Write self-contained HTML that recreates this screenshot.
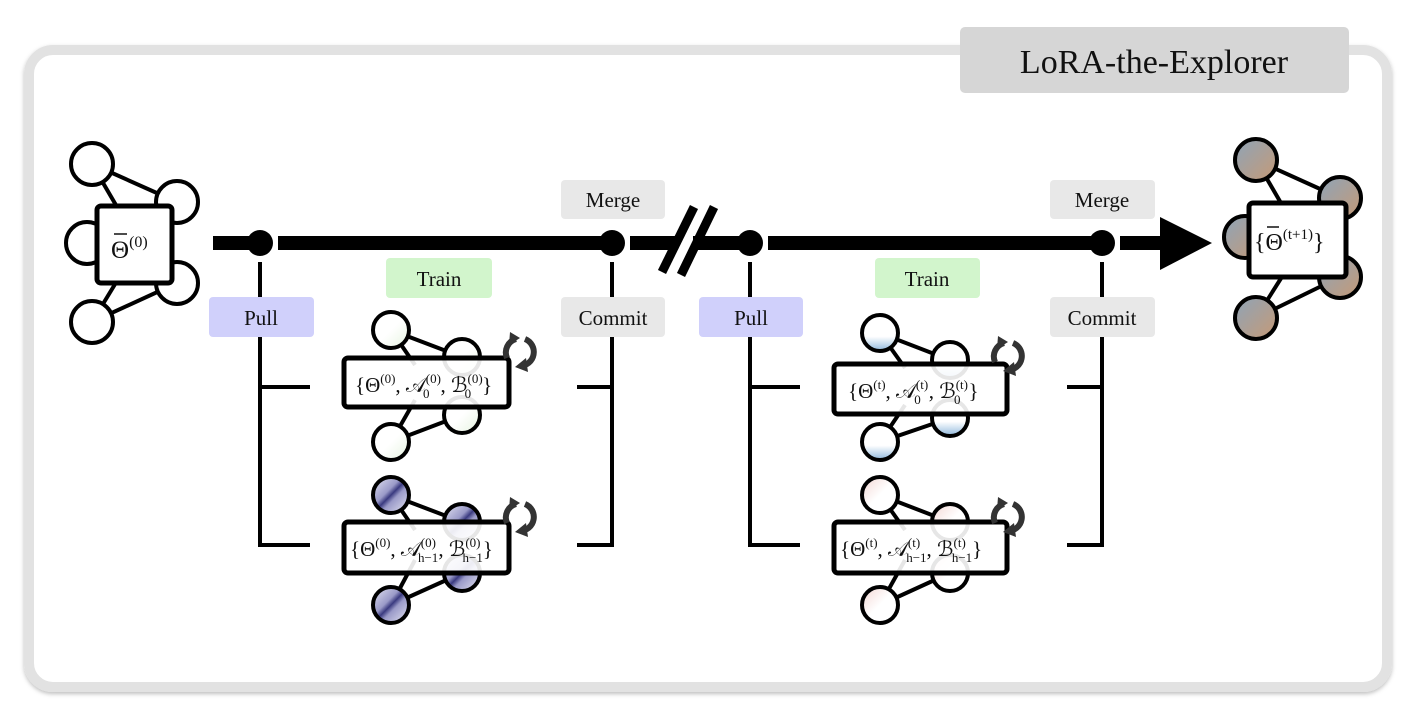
<!DOCTYPE html>
<html><head><meta charset="utf-8"><style>
html,body{margin:0;padding:0;background:#fff;}
svg{display:block;}
text{font-family:"Liberation Serif",serif;fill:#111;}
</style></head><body>
<svg width="1412" height="714" viewBox="0 0 1412 714" xmlns="http://www.w3.org/2000/svg">
<defs>
<linearGradient id="gOut" x1="0" y1="0" x2="1" y2="1"><stop offset="0" stop-color="#8ea4b8"/><stop offset="1" stop-color="#c69a76"/></linearGradient>
<linearGradient id="gPur" x1="0" y1="0" x2="1" y2="1"><stop offset="0" stop-color="#e8e8f4"/><stop offset="0.4" stop-color="#9a9ac8"/><stop offset="0.5" stop-color="#3a3a80"/><stop offset="0.6" stop-color="#9a9ac8"/><stop offset="1" stop-color="#e8e8f4"/></linearGradient>
<linearGradient id="gBlue" x1="0" y1="0" x2="0" y2="1"><stop offset="0.6" stop-color="#fff"/><stop offset="1" stop-color="#8fb8dc"/></linearGradient>
<linearGradient id="gPink" x1="0" y1="0" x2="1" y2="1"><stop offset="0" stop-color="#f3d6d3"/><stop offset="0.5" stop-color="#fff"/></linearGradient>
<linearGradient id="gGreen" x1="0" y1="0" x2="1" y2="1"><stop offset="0.5" stop-color="#fff"/><stop offset="1" stop-color="#e6f4e0"/></linearGradient>
<filter id="sh" x="-5%" y="-5%" width="110%" height="110%"><feDropShadow dx="0" dy="2" stdDeviation="2" flood-color="#000" flood-opacity="0.25"/></filter>
<g id="rot">
<g fill="none" stroke="#333" stroke-width="6">
<path d="M-13,6 A14,14 0 0 1 -4,-13"/>
<path d="M5,-13 A14,14 0 0 1 0,14"/>
</g>
<polygon points="-10,-20 0,-14 -11,-7" fill="#333"/>
<polygon points="6,6 8,20 -5,15" fill="#333"/>
</g>
</defs>

<rect x="29" y="50" width="1358" height="637" rx="24" fill="#fff" stroke="#e2e2e2" stroke-width="10" filter="url(#sh)"/>
<rect x="960" y="27" width="389" height="66" rx="5" fill="#d6d6d6"/>
<text x="1154" y="73" font-size="34" text-anchor="middle">LoRA-the-Explorer</text>

<g stroke="#000" stroke-width="4">
<line x1="92" y1="164" x2="177" y2="202"/><line x1="92" y1="164" x2="120" y2="212"/>
<line x1="92" y1="322" x2="177" y2="283"/><line x1="92" y1="322" x2="120" y2="276"/>
<circle cx="92" cy="164" r="21" fill="#fff"/><circle cx="177" cy="202" r="21" fill="#fff"/>
<circle cx="87" cy="243" r="21" fill="#fff"/><circle cx="177" cy="283" r="21" fill="#fff"/>
<circle cx="92" cy="322" r="21" fill="#fff"/>
<rect x="97" y="206" width="75" height="77" rx="4" fill="#fff" stroke-width="5"/>
</g>
<text x="111" y="258" font-size="25">Θ<tspan font-size="16" dy="-11">(0)</tspan></text>
<line x1="114" y1="234" x2="127" y2="234" stroke="#111" stroke-width="1.5"/>

<g stroke="#000" stroke-width="4">
<line x1="1256" y1="160" x2="1340" y2="198"/><line x1="1256" y1="160" x2="1285" y2="210"/>
<line x1="1256" y1="318" x2="1340" y2="277"/><line x1="1256" y1="318" x2="1285" y2="272"/>
<circle cx="1256" cy="160" r="21" fill="url(#gOut)"/><circle cx="1340" cy="198" r="21" fill="url(#gOut)"/>
<circle cx="1245" cy="237" r="21" fill="url(#gOut)"/><circle cx="1340" cy="277" r="21" fill="url(#gOut)"/>
<circle cx="1256" cy="318" r="21" fill="url(#gOut)"/>
<rect x="1249" y="203" width="97" height="74" rx="4" fill="#fff" stroke-width="5"/>
</g>
<text x="1254" y="250" font-size="24">{Θ<tspan font-size="15" dy="-11">(t+1)</tspan><tspan dy="11">}</tspan></text>
<line x1="1267" y1="227" x2="1279" y2="227" stroke="#111" stroke-width="1.5"/>

<g fill="#000">
<rect x="213" y="236" width="38" height="14"/>
<rect x="278" y="236" width="324" height="14"/>
<rect x="630" y="236" width="110" height="14"/>
<rect x="768" y="236" width="325" height="14"/>
<rect x="1120" y="236" width="45" height="14"/>
<polygon points="1160,217 1212,243 1160,270"/>
<circle cx="260" cy="243" r="13"/><circle cx="612" cy="243" r="13"/>
<circle cx="750" cy="243" r="13"/><circle cx="1102" cy="243" r="13"/>
</g>
<line x1="677" y1="242" x2="693" y2="242" stroke="#fff" stroke-width="16"/>
<line x1="662" y1="272" x2="694" y2="207" stroke="#000" stroke-width="9"/>
<line x1="681" y1="275" x2="714" y2="207" stroke="#000" stroke-width="9"/>

<g stroke="#000" stroke-width="4" fill="none">
<path d="M260,262 V545 H310 M260,387 H310"/>
<path d="M612,262 V545 H577 M612,387 H577"/>
<path d="M750,262 V545 H800 M750,387 H800"/>
<path d="M1102,262 V545 H1067 M1102,387 H1067"/>
</g>

<g font-size="21">
<rect x="561" y="180" width="104" height="39" rx="4" fill="#e8e8e8"/><text x="613" y="207" text-anchor="middle">Merge</text>
<rect x="1050" y="180" width="105" height="39" rx="4" fill="#e8e8e8"/><text x="1102" y="207" text-anchor="middle">Merge</text>
<rect x="209" y="297" width="105" height="40" rx="4" fill="#d0d0fb"/><text x="261" y="325" text-anchor="middle">Pull</text>
<rect x="699" y="297" width="104" height="40" rx="4" fill="#d0d0fb"/><text x="751" y="325" text-anchor="middle">Pull</text>
<rect x="561" y="297" width="104" height="40" rx="4" fill="#e8e8e8"/><text x="613" y="325" text-anchor="middle">Commit</text>
<rect x="1050" y="297" width="105" height="40" rx="4" fill="#e8e8e8"/><text x="1102" y="325" text-anchor="middle">Commit</text>
<rect x="386" y="258" width="106" height="40" rx="4" fill="#d2f5cc"/><text x="439" y="286" text-anchor="middle">Train</text>
<rect x="875" y="258" width="105" height="40" rx="4" fill="#d2f5cc"/><text x="927" y="286" text-anchor="middle">Train</text>
</g>

<g>
<g stroke="#000" stroke-width="4">
<line x1="391" y1="330" x2="462" y2="357"/><line x1="391" y1="330" x2="415" y2="365"/>
<line x1="391" y1="442" x2="462" y2="415"/><line x1="391" y1="442" x2="415" y2="400"/>
<circle cx="391" cy="330" r="18" fill="url(#gGreen)"/><circle cx="462" cy="357" r="18" fill="url(#gGreen)"/>
<circle cx="462" cy="415" r="18" fill="url(#gGreen)"/><circle cx="391" cy="442" r="18" fill="url(#gGreen)"/>
<rect x="344" y="358" width="165" height="49" rx="4" fill="#fff" fill-opacity="0.9" stroke-width="5"/>
</g>
<use href="#rot" x="520" y="352"/>
</g>
<text x="355" y="392" font-size="21">{Θ<tspan font-size="13" dy="-9">(0)</tspan><tspan dy="9">, 𝒜</tspan><tspan font-size="13" dy="-9">(0)</tspan><tspan font-size="13" dx="-18" dy="15">0</tspan><tspan dx="11" dy="-6">, ℬ</tspan><tspan font-size="13" dy="-9">(0)</tspan><tspan font-size="13" dx="-18" dy="15">0</tspan><tspan dx="11" dy="-6">}</tspan></text>

<g>
<g stroke="#000" stroke-width="4">
<line x1="391" y1="495" x2="462" y2="522"/><line x1="391" y1="495" x2="415" y2="530"/>
<line x1="391" y1="605" x2="462" y2="573"/><line x1="391" y1="605" x2="415" y2="560"/>
<circle cx="391" cy="495" r="18" fill="url(#gPur)"/><circle cx="462" cy="522" r="18" fill="url(#gPur)"/>
<circle cx="462" cy="573" r="18" fill="url(#gPur)"/><circle cx="391" cy="605" r="18" fill="url(#gPur)"/>
<rect x="344" y="522" width="165" height="51" rx="4" fill="#fff" fill-opacity="0.9" stroke-width="5"/>
</g>
<use href="#rot" x="520" y="517"/>
</g>
<text x="350" y="556" font-size="21">{Θ<tspan font-size="13" dy="-9">(0)</tspan><tspan dy="9">, 𝒜</tspan><tspan font-size="13" dy="-9">(0)</tspan><tspan font-size="13" dx="-18" dy="15">h−1</tspan><tspan dy="-6">, ℬ</tspan><tspan font-size="13" dy="-9">(0)</tspan><tspan font-size="13" dx="-18" dy="15">h−1</tspan><tspan dy="-6">}</tspan></text>

<g>
<g stroke="#000" stroke-width="4">
<line x1="880" y1="333" x2="950" y2="360"/><line x1="880" y1="333" x2="905" y2="368"/>
<line x1="880" y1="442" x2="950" y2="418"/><line x1="880" y1="442" x2="905" y2="405"/>
<circle cx="880" cy="333" r="18" fill="url(#gBlue)"/><circle cx="950" cy="360" r="18" fill="url(#gBlue)"/>
<circle cx="950" cy="418" r="18" fill="url(#gBlue)"/><circle cx="880" cy="442" r="18" fill="url(#gBlue)"/>
<rect x="834" y="364" width="173" height="50" rx="4" fill="#fff" fill-opacity="0.9" stroke-width="5"/>
</g>
<use href="#rot" x="1008" y="356"/>
</g>
<text x="848" y="398" font-size="21">{Θ<tspan font-size="13" dy="-9">(t)</tspan><tspan dy="9">, 𝒜</tspan><tspan font-size="13" dy="-9">(t)</tspan><tspan font-size="13" dx="-14" dy="15">0</tspan><tspan dx="8" dy="-6">, ℬ</tspan><tspan font-size="13" dy="-9">(t)</tspan><tspan font-size="13" dx="-14" dy="15">0</tspan><tspan dx="8" dy="-6">}</tspan></text>

<g>
<g stroke="#000" stroke-width="4">
<line x1="880" y1="495" x2="950" y2="522"/><line x1="880" y1="495" x2="905" y2="530"/>
<line x1="880" y1="605" x2="950" y2="573"/><line x1="880" y1="605" x2="905" y2="560"/>
<circle cx="880" cy="495" r="18" fill="url(#gPink)"/><circle cx="950" cy="522" r="18" fill="url(#gPink)"/>
<circle cx="950" cy="573" r="18" fill="url(#gPink)"/><circle cx="880" cy="605" r="18" fill="url(#gPink)"/>
<rect x="834" y="522" width="173" height="51" rx="4" fill="#fff" fill-opacity="0.9" stroke-width="5"/>
</g>
<use href="#rot" x="1008" y="517"/>
</g>
<text x="840" y="556" font-size="21">{Θ<tspan font-size="13" dy="-9">(t)</tspan><tspan dy="9">, 𝒜</tspan><tspan font-size="13" dy="-9">(t)</tspan><tspan font-size="13" dx="-14" dy="15">h−1</tspan><tspan dy="-6">, ℬ</tspan><tspan font-size="13" dy="-9">(t)</tspan><tspan font-size="13" dx="-14" dy="15">h−1</tspan><tspan dy="-6">}</tspan></text>
</svg>
</body></html>
